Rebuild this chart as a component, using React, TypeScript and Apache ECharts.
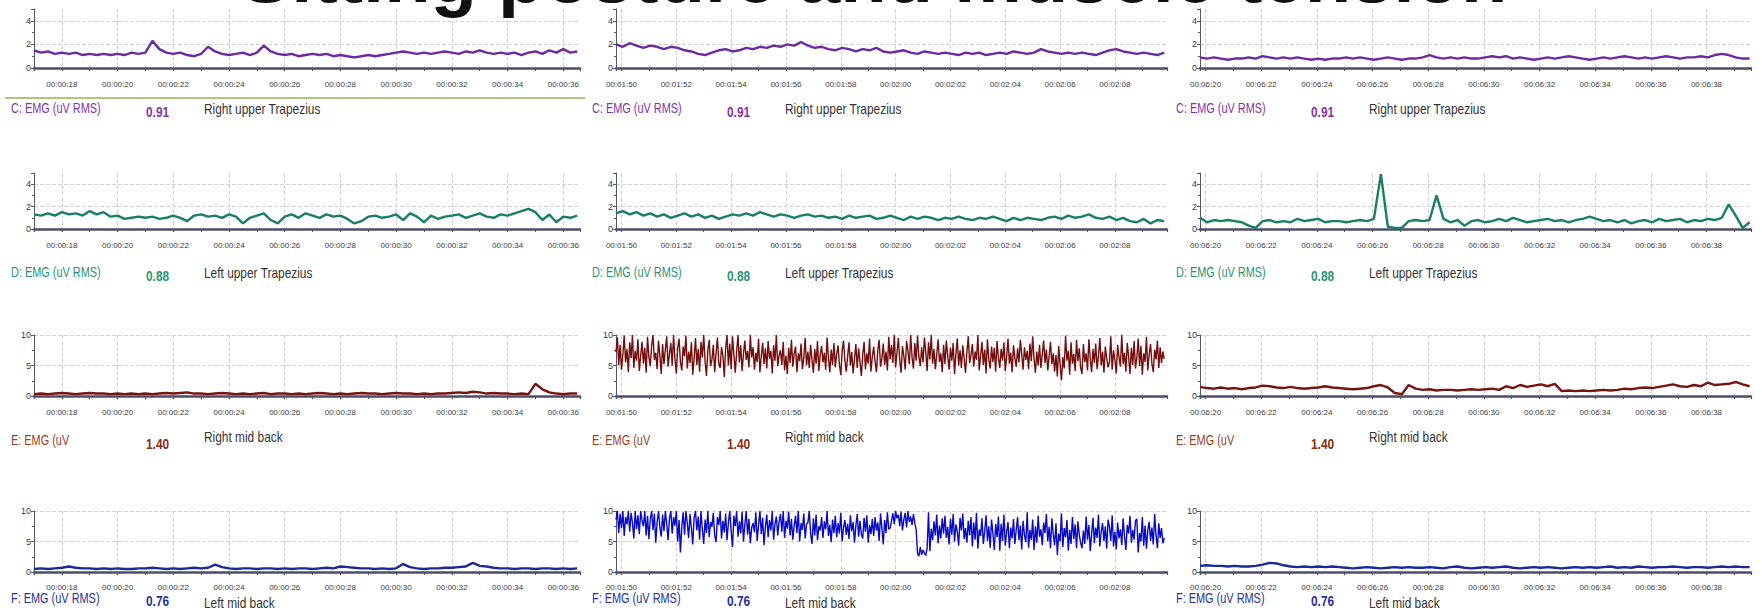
import React, { useEffect, useRef } from "react";
import * as echarts from "echarts";

const TITLE = "Sitting posture and muscle tension";

// Time windows of the three recordings (seconds)
const COL_START = [17.0, 109.8, 379.8];
const COL_END = [36.6, 129.9, 399.6];
const STEP_CALM = 0.25;
const STEP_NOISY = 0.05;

// Row C: Right upper Trapezius (uV RMS)
const C1 = [1.5,1.3,1.4,1.2, 1.3,1.2,1.3,1.1, 1.2,1.1,1.2,1.1, 1.2,1.1,1.3,1.2, 1.3,2.3,1.6,1.3, 1.2,1.3,1.1,1.0, 1.2,1.8,1.4,1.2, 1.1,1.2,1.3,1.1, 1.3,1.9,1.4,1.2, 1.1,1.2,1.0,1.1, 1.2,1.1,1.2,1.0, 1.1,1.0,0.9,1.0, 1.1,1.0,1.1,1.2, 1.3,1.4,1.3,1.2, 1.3,1.2,1.3,1.4, 1.3,1.2,1.4,1.3, 1.5,1.3,1.2,1.3, 1.2,1.3,1.1,1.3, 1.4,1.2,1.5,1.3, 1.6,1.3,1.4];
const C2 = [2.0,1.8,2.1,1.9, 1.7,1.9,1.8,1.6, 1.8,1.7,1.5,1.4, 1.2,1.1,1.3,1.5, 1.6,1.4,1.5,1.7, 1.6,1.8,1.7,1.9, 1.8,2.0,1.9,2.2, 1.9,1.7,1.8,1.6, 1.5,1.7,1.6,1.4, 1.6,1.5,1.7,1.4, 1.3,1.4,1.5,1.3, 1.2,1.4,1.3,1.2, 1.3,1.2,1.1,1.3, 1.2,1.3,1.1,1.2, 1.3,1.2,1.4,1.3, 1.2,1.3,1.6,1.4, 1.3,1.2,1.3,1.2, 1.3,1.2,1.1,1.3, 1.5,1.6,1.4,1.3, 1.2,1.3,1.2,1.1, 1.3];
const C3 = [0.9,0.8,0.9,0.8, 0.7,0.8,0.8,0.9, 0.8,1.0,0.9,0.8, 0.9,0.8,0.9,0.8, 0.7,0.8,0.7,0.8, 0.8,0.9,0.8,0.9, 0.8,0.7,0.8,0.9, 0.8,0.7,0.8,0.8, 0.9,1.1,0.9,0.8, 0.9,0.8,0.9,0.8, 0.8,0.9,1.0,0.9, 1.0,0.8,0.9,0.8, 0.7,0.8,0.9,0.8, 0.9,1.0,0.9,0.8, 0.7,0.8,0.9,0.8, 0.9,1.0,0.9,0.8, 0.9,0.8,0.9,1.0, 0.9,0.8,0.9,0.9, 1.0,0.9,1.1,1.2, 1.1,0.9,0.8,0.8];

// Row D: Left upper Trapezius (uV RMS)
const D1 = [1.3,1.2,1.4,1.2, 1.5,1.3,1.4,1.2, 1.6,1.3,1.5,1.1, 1.2,0.9,1.0,1.1, 1.0,1.1,0.9,1.0, 1.2,1.0,0.7,1.2, 1.3,1.1,1.2,1.0, 1.3,1.1,0.5,1.0, 1.2,1.4,0.8,0.5, 1.1,1.3,1.0,1.4, 1.2,1.0,1.3,1.1, 1.2,0.9,0.5,0.7, 1.1,1.2,1.0,1.1, 1.3,0.8,1.4,1.1, 0.6,1.2,0.9,1.1, 1.2,1.3,1.0,1.2, 1.4,1.1,1.0,1.3, 1.2,1.4,1.6,1.8, 1.5,0.8,1.3,0.6, 1.1,1.0,1.2];
const D2 = [1.4,1.6,1.3,1.5, 1.2,1.4,1.1,1.3, 1.0,1.2,1.4,1.1, 1.3,1.0,1.2,0.9, 1.1,1.3,1.2,1.4, 1.2,1.5,1.3,1.1, 1.3,1.2,1.0,1.2, 1.3,1.1,1.2,1.0, 1.1,0.9,1.2,1.0, 1.1,1.2,0.9,1.0, 1.2,1.0,0.8,1.1, 0.9,1.1,1.0,0.8, 1.0,0.9,1.1,0.9, 0.8,1.0,0.9,1.1, 0.9,0.7,1.0,0.8, 1.0,0.9,0.8,1.0, 1.1,0.9,1.2,1.0, 1.1,1.3,1.0,0.9, 1.1,0.8,1.0,0.7, 0.6,0.9,0.5,0.8, 0.7];
const D3 = [1.0,0.6,0.8,0.7, 0.8,0.7,0.6,0.3, 0.1,0.7,0.8,0.6, 0.7,0.6,0.9,0.7, 0.8,0.9,0.6,0.7, 0.7,0.6,0.7,0.8, 0.7,0.9,4.9,0.2, 0.1,0.1,0.7,0.8, 0.7,0.8,3.0,0.9, 0.6,0.8,0.3,0.7, 0.8,0.6,0.7,0.9, 0.7,1.0,0.8,0.6, 0.7,0.8,0.9,0.7, 0.8,0.6,0.8,0.9, 1.1,0.9,0.7,0.8, 0.6,0.8,0.5,0.7, 0.8,0.6,0.9,0.7, 0.8,0.9,0.6,0.8, 0.7,0.9,0.8,1.0, 2.2,1.2,0.1,0.6];

// Row E: Right mid back (uV)
const E1 = [0.3,0.4,0.3,0.4, 0.5,0.4,0.3,0.4, 0.5,0.4,0.4,0.3, 0.4,0.3,0.4,0.3, 0.4,0.3,0.4,0.5, 0.4,0.5,0.6,0.4, 0.4,0.3,0.4,0.5, 0.4,0.3,0.4,0.3, 0.4,0.5,0.3,0.4, 0.4,0.3,0.4,0.3, 0.4,0.5,0.4,0.3, 0.4,0.3,0.4,0.5, 0.4,0.4,0.3,0.4, 0.5,0.4,0.4,0.3, 0.4,0.3,0.4,0.4, 0.5,0.6,0.5,0.7, 0.6,0.4,0.5,0.4, 0.4,0.3,0.4,0.3, 2.0,1.1,0.6,0.4, 0.3,0.4,0.4];
const E2 = [
  7.2,9.6,5.1,8.4,4.3,6.8,9.9,5.5,7.7,3.9, 8.8,6.2,10,4.6,7.4,5.8,9.3,4.1,6.6,8.9,
  5.3,7.9,3.8,9.7,6.4,4.9,8.2,10,5.9,7.1, 4.4,9.1,6.7,3.6,8.5,5.2,7.6,9.8,4.8,6.9,
  8.7,5.0,10,6.1,3.7,7.8,9.4,5.6,4.2,8.1, 6.5,9.9,4.5,7.3,5.4,8.8,3.5,6.2,9.5,5.1,
  7.7,4.0,8.9,6.3,10,5.7,3.3,7.5,9.2,4.9, 6.0,8.4,3.9,7.0,9.6,5.3,4.6,8.0,6.6,3.1,
  7.9,10,5.0,8.6,4.4,9.8,6.8,3.8,7.2,10, 5.5,8.3,4.1,6.9,9.1,5.9,7.4,4.7,10,6.3,
  8.0,4.3,7.1,5.6,9.4,3.9,6.5,8.7,5.2,7.8, 4.5,9.0,6.1,7.4,3.7,8.3,5.8,10,4.9,6.7,
  7.5,5.1,8.9,4.2,6.6,3.6,7.9,5.4,9.2,4.8, 6.9,8.1,3.9,7.0,5.7,8.6,4.4,6.3,9.5,5.0,
  7.3,4.6,8.4,6.0,3.8,7.7,5.3,9.0,4.1,6.8, 8.2,5.5,7.1,4.3,9.6,6.2,3.9,7.6,5.1,8.7,
  4.7,6.9,8.3,5.2,3.4,7.4,9.1,5.8,4.0,6.5, 8.8,5.0,7.2,3.7,6.1,8.5,4.6,7.8,5.6,3.3,
  6.7,8.9,4.4,7.0,5.3,9.4,4.0,6.4,8.1,5.7, 3.9,7.5,9.2,4.8,6.2,8.6,5.1,7.3,4.2,9.7,
  6.0,8.4,5.4,10,4.7,7.1,9.5,5.9,3.8,8.2, 6.6,4.3,9.0,7.4,5.2,10,6.3,4.5,8.7,5.8,
  9.9,6.4,4.9,8.0,5.5,9.6,7.2,4.1,8.8,6.0, 10,5.3,7.7,4.4,6.8,9.3,5.6,7.0,3.9,8.4,
  5.2,9.1,6.6,4.3,7.9,5.8,8.7,3.6,6.9,9.4, 5.0,7.5,4.6,8.3,6.1,3.8,7.2,9.8,5.4,6.7,
  8.5,4.8,7.3,5.9,10,4.2,6.6,8.9,5.1,7.6, 3.7,9.3,6.0,4.5,8.1,5.6,7.9,4.0,9.0,6.3,
  4.6,7.7,5.8,8.8,4.1,6.4,9.4,5.3,7.1,3.9, 8.3,6.2,4.8,7.8,5.5,9.2,6.9,4.3,8.0,5.9,
  7.4,4.4,8.6,5.7,9.8,6.1,3.8,7.3,5.0,8.4, 4.6,6.8,9.1,5.4,7.6,4.2,6.5,8.9,5.2,7.0,
  4.0,6.7,3.2,8.2,5.1,2.6,6.4,4.5,9.9,5.8, 7.4,3.5,8.8,5.3,6.9,4.1,9.2,5.7,7.8,4.6,
  3.6,8.5,5.6,7.0,4.2,9.3,6.1,3.9,7.7,5.4, 8.6,4.4,6.6,9.5,5.0,7.3,3.8,8.1,6.2,4.7,
  5.5,9.8,4.3,7.5,5.9,3.7,8.4,6.3,4.8,10, 5.2,7.1,4.0,8.7,6.5,3.6,7.9,5.1,9.0,4.5,
  6.3,9.4,4.9,8.2,3.5,7.0,5.6,9.7,4.2,6.8, 8.5,5.3,3.9,7.6,6.0,9.1,4.6,8.0,5.4,7.3,
  6.1];
const E3 = [1.5,1.3,1.2,1.4, 1.2,1.3,1.1,1.3, 1.4,1.7,1.6,1.4, 1.3,1.5,1.3,1.2, 1.3,1.4,1.6,1.4, 1.3,1.2,1.1,1.2, 1.3,1.6,1.8,1.4, 0.5,0.3,1.8,1.2, 1.0,1.1,0.9,1.0, 1.0,0.9,1.0,1.1, 1.0,1.1,1.2,1.0, 1.6,1.3,1.8,1.5, 1.7,1.9,1.6,2.0, 0.8,0.9,0.8,0.9, 0.8,0.9,1.0,0.9, 1.0,1.2,1.1,1.3, 1.4,1.3,1.5,1.7, 1.9,1.6,1.5,1.8, 1.6,2.2,1.8,1.9, 2.0,2.3,1.9,1.6];

// Row F: Left mid back (uV RMS)
const F1 = [0.5,0.6,0.5,0.6, 0.7,0.9,0.7,0.6, 0.6,0.5,0.6,0.5, 0.6,0.5,0.5,0.6, 0.6,0.7,0.6,0.5, 0.6,0.5,0.6,0.7, 0.6,0.7,1.2,0.8, 0.6,0.5,0.6,0.6, 0.5,0.6,0.6,0.5, 0.6,0.5,0.6,0.6, 0.5,0.6,0.7,0.6, 0.9,0.8,0.7,0.6, 0.6,0.5,0.6,0.5, 0.6,1.3,0.8,0.6, 0.5,0.6,0.6,0.7, 0.7,0.8,0.9,1.5, 1.0,0.9,0.7,0.6, 0.6,0.5,0.6,0.6, 0.5,0.6,0.6,0.5, 0.6,0.5,0.6];
const F2 = [
  8.6,10,6.4,9.5,7.2,10,5.9,9.0,7.8,10, 6.6,9.7,8.1,5.5,10,7.0,9.3,6.2,10,8.4,
  7.5,10,6.0,9.2,5.4,8.7,10,6.9,9.6,4.8, 8.2,10,7.3,5.8,9.4,6.7,10,7.9,5.2,8.8,
  10,6.3,9.0,7.6,10,5.0,8.5,3.2,7.4,9.8, 6.1,10,8.0,5.6,9.5,7.2,4.5,8.9,10,6.8,
  9.1,5.3,10,7.0,4.6,8.6,6.4,10,5.7,8.2, 7.4,9.7,6.0,4.9,9.0,7.7,10,5.5,8.4,6.5,
  9.6,5.2,8.1,10,6.7,4.1,9.2,7.5,10,5.8, 8.3,6.3,9.9,5.0,7.8,10,6.1,8.7,4.7,7.3,
  8.0,6.5,9.8,5.1,7.7,10,6.2,8.9,4.4,7.4, 9.4,5.7,8.5,6.8,10,5.3,7.9,9.1,6.0,8.3,
  9.5,6.6,10,5.6,8.4,7.1,9.9,6.0,8.7,5.3, 7.6,9.2,6.4,10,5.0,8.0,6.9,9.6,5.5,7.8,
  8.1,10,6.3,4.6,8.8,6.0,9.4,5.2,7.5,6.8, 9.0,5.6,8.3,7.0,10,5.9,7.7,4.9,8.6,6.4,
  9.2,5.7,8.0,6.3,9.7,5.0,7.3,8.5,6.1,7.9, 5.4,9.3,6.7,8.2,4.8,7.6,9.5,5.8,8.4,6.2,
  5.5,8.9,6.6,9.3,4.8,7.7,6.2,8.7,5.9,9.0, 6.8,8.1,5.1,9.6,7.2,4.5,8.5,6.4,9.8,7.0,
  7.2,8.4,9.6,7.9,10,8.8,9.4,7.5,9.9,6.8, 8.6,9.7,7.3,10,8.2,9.1,7.7,9.5,8.0,6.9,
  3.0,2.6,4.1,2.8,3.6,3.1,2.7,3.9,9.8,3.4, 7.1,5.2,8.3,6.0,9.4,4.7,7.6,5.5,8.8,6.3,
  9.2,5.6,7.4,4.5,8.7,6.1,9.5,5.0,7.8,6.6, 4.3,8.9,6.8,9.6,5.4,7.2,4.8,8.4,6.0,9.0,
  4.2,8.1,5.3,9.7,3.8,7.0,5.9,8.8,4.6,6.7, 9.3,5.1,7.5,4.0,8.6,6.3,3.6,7.9,5.7,9.1,
  3.5,7.9,5.1,9.4,4.3,6.5,8.2,3.9,7.3,5.5, 8.7,4.6,6.9,9.0,5.2,7.6,3.7,8.4,6.1,4.9,
  9.8,4.0,6.9,5.2,8.6,3.6,7.5,4.8,9.2,5.8, 7.0,4.4,8.1,6.4,9.5,5.0,7.4,3.9,8.8,6.2,
  4.4,8.0,2.8,6.3,5.0,9.6,4.1,7.2,5.7,8.5, 3.5,6.9,4.6,9.0,5.4,7.8,3.9,8.3,6.1,4.8,
  3.9,6.8,4.6,9.1,5.3,7.7,3.4,6.2,8.9,4.7, 7.3,5.6,9.4,4.2,6.6,8.0,5.1,7.5,3.8,8.6,
  7.4,5.1,9.3,4.2,6.6,3.7,8.1,5.5,7.0,4.4, 8.8,5.9,3.6,7.7,6.3,9.2,4.8,6.9,5.3,8.4,
  8.7,3.2,6.4,5.0,9.0,4.3,7.6,3.8,6.9,8.2, 5.1,7.3,4.5,9.5,6.0,3.9,8.0,5.6,7.2,4.7,
  5.6];
const F3 = [1.0,1.1,1.0,1.0, 0.9,1.0,0.9,0.9, 1.0,1.2,1.5,1.4, 1.1,0.9,0.8,0.9, 0.8,0.9,0.8,0.9, 0.8,0.7,0.6,0.7, 0.8,0.7,0.6,0.7, 0.8,0.7,0.8,0.7, 0.7,0.8,0.7,0.6, 0.8,0.9,0.7,0.6, 0.7,0.8,0.7,0.8, 0.9,0.7,0.6,0.7, 0.8,0.7,0.8,0.7, 0.6,0.7,0.8,0.7, 0.8,0.7,0.8,0.9, 0.7,0.8,0.7,0.9, 0.8,0.7,0.8,0.8, 0.9,0.8,0.7,0.8, 0.8,0.7,0.8,0.9, 0.8,0.9,0.8,0.8];

const ROW_LABELS = ["C: EMG (uV RMS)", "D: EMG (uV RMS)", "E: EMG (uV", "F: EMG (uV RMS)"];
const ROW_VALUES = ["0.91", "0.88", "1.40", "0.76"];
const ROW_DESCS = ["Right upper Trapezius", "Left upper Trapezius", "Right mid back", "Left mid back"];
const ROW_YMAX = [5, 5, 10, 10];
const ROW_YINT = [2, 2, 5, 5];

const SERIES_ROWS = [
  [{ v: C1, step: STEP_CALM }, { v: C2, step: STEP_CALM }, { v: C3, step: STEP_CALM }],
  [{ v: D1, step: STEP_CALM }, { v: D2, step: STEP_CALM }, { v: D3, step: STEP_CALM }],
  [{ v: E1, step: STEP_CALM }, { v: E2, step: STEP_NOISY }, { v: E3, step: STEP_CALM }],
  [{ v: F1, step: STEP_CALM }, { v: F2, step: STEP_NOISY }, { v: F3, step: STEP_CALM }],
];

// layout / style
const GRID_LEFT = [34, 616, 1200];
const GRID_W = [546, 551, 551];
const GRID_TOP = [9, 173, 335, 511];
const GRID_H = [59, 56, 61, 61];
const LABEL_X = [11, 592, 1176];
const LABEL_Y = [109, 273, 441, 599];
const VALUE_DY = [3, 3, 3, 2];
const DESC_DY = [0, 0, -4, 4];
const LINE_COLORS = [
  ["#6c2aa2", "#6c2aa2", "#6c2aa2"],
  ["#177f63", "#177f63", "#177f63"],
  ["#751410", "#740d0d", "#751410"],
  ["#1a2898", "#0a0ac4", "#1a2898"],
];
const LABEL_COLORS = ["#8534a6", "#2a9474", "#a0401b", "#24349a"];
const VALUE_COLORS = ["#8534a6", "#2a9474", "#8a2c10", "#24349a"];

const pad = (n: number) => (n < 10 ? "0" + n : "" + n);
const fmtTime = (v: number) => {
  const s = Math.round(v);
  return `00:${pad(Math.floor(s / 60))}:${pad(s % 60)}`;
};

export default function App() {
  const ref = useRef<HTMLDivElement>(null);
  useEffect(() => {
    if (!ref.current) return;
    const chart = echarts.init(ref.current, null, { renderer: "svg" });
    const grid: any[] = [];
    const xAxis: any[] = [];
    const yAxis: any[] = [];
    const series: any[] = [];
    const graphic: any[] = [];
    const FONT = "'Liberation Sans', Arial, sans-serif";
    let idx = 0;
    for (let r = 0; r < 4; r++) {
      for (let c = 0; c < 3; c++) {
        grid.push({ left: GRID_LEFT[c], top: GRID_TOP[r], width: GRID_W[c], height: GRID_H[r], containLabel: false });
        xAxis.push({
          type: "value",
          gridIndex: idx,
          min: COL_START[c],
          max: COL_END[c],
          splitNumber: 10,
          minInterval: 2,
          maxInterval: 2,
          axisLine: { onZero: false, lineStyle: { color: "#4d4d6b", width: 2.5 } },
          axisTick: { show: true, length: 3, lineStyle: { color: "#4d4d6b" } },
          minorTick: { show: true, splitNumber: 2, length: 3, lineStyle: { color: "#4d4d6b" } },
          axisLabel: {
            fontSize: 8,
            color: "#3a3a48",
            margin: r === 3 ? 11 : 12,
            showMinLabel: false,
            showMaxLabel: false,
            formatter: fmtTime,
          },
          splitLine: {
            show: true,
            showMinLine: false,
            showMaxLine: false,
            lineStyle: { type: "dashed", color: "#d2d2d2", width: 1 },
          },
        });
        yAxis.push({
          type: "value",
          gridIndex: idx,
          min: 0,
          max: ROW_YMAX[r],
          interval: ROW_YINT[r],
          axisLine: { show: true, lineStyle: { color: "#56566a", width: 1 } },
          axisTick: { show: true, length: 3, lineStyle: { color: "#56566a" } },
          minorTick: { show: true, splitNumber: 2, length: 2, lineStyle: { color: "#56566a" } },
          axisLabel: {
            fontSize: 9,
            color: "#3a3a44",
            margin: 3,
            showMaxLabel: ROW_YMAX[r] === 10,
          },
          splitLine: {
            show: true,
            showMinLine: false,
            showMaxLine: ROW_YMAX[r] === 10,
            lineStyle: { type: "dashed", color: "#d2d2d2", width: 1 },
          },
        });
        const s = SERIES_ROWS[r][c];
        series.push({
          type: "line",
          xAxisIndex: idx,
          yAxisIndex: idx,
          showSymbol: false,
          symbol: "none",
          silent: true,
          lineStyle: { color: LINE_COLORS[r][c], width: s.step === STEP_NOISY ? 1.4 : 2.4 },
          data: s.v.map((v, i) => [+(COL_START[c] + i * s.step).toFixed(2), v]),
        });
        graphic.push(
          {
            type: "text",
            x: LABEL_X[c],
            y: LABEL_Y[r],
            scaleX: 0.78,
            style: {
              text: ROW_LABELS[r],
              font: `14px ${FONT}`,
              fill: LABEL_COLORS[r],
              textVerticalAlign: "middle",
            },
          },
          {
            type: "text",
            x: LABEL_X[c] + 135,
            y: LABEL_Y[r] + VALUE_DY[r],
            scaleX: 0.85,
            style: {
              text: ROW_VALUES[r],
              font: `bold 14px ${FONT}`,
              fill: VALUE_COLORS[r],
              textVerticalAlign: "middle",
            },
          },
          {
            type: "text",
            x: LABEL_X[c] + 193,
            y: LABEL_Y[r] + DESC_DY[r],
            scaleX: 0.85,
            style: {
              text: ROW_DESCS[r],
              font: `14px ${FONT}`,
              fill: "#333333",
              textVerticalAlign: "middle",
            },
          }
        );
        idx++;
      }
    }
    graphic.push(
      {
        type: "line",
        shape: { x1: 5, y1: 98, x2: 585, y2: 98 },
        style: { stroke: "#a9c97d", lineWidth: 2 },
      },
      {
        type: "text",
        x: 874,
        y: -25,
        z: 100,
        style: {
          text: TITLE,
          font: `bold 76px ${FONT}`,
          fill: "#111111",
          textAlign: "center",
          textVerticalAlign: "middle",
        },
      }
    );
    chart.setOption({
      animation: false,
      backgroundColor: "#ffffff",
      textStyle: { fontFamily: FONT },
      grid,
      xAxis,
      yAxis,
      series,
      graphic,
    });
    return () => chart.dispose();
  }, []);
  return (
    <div
      ref={ref}
      style={{ position: "fixed", left: 0, top: 0, width: 1762, height: 610, background: "#ffffff" }}
    />
  );
}
